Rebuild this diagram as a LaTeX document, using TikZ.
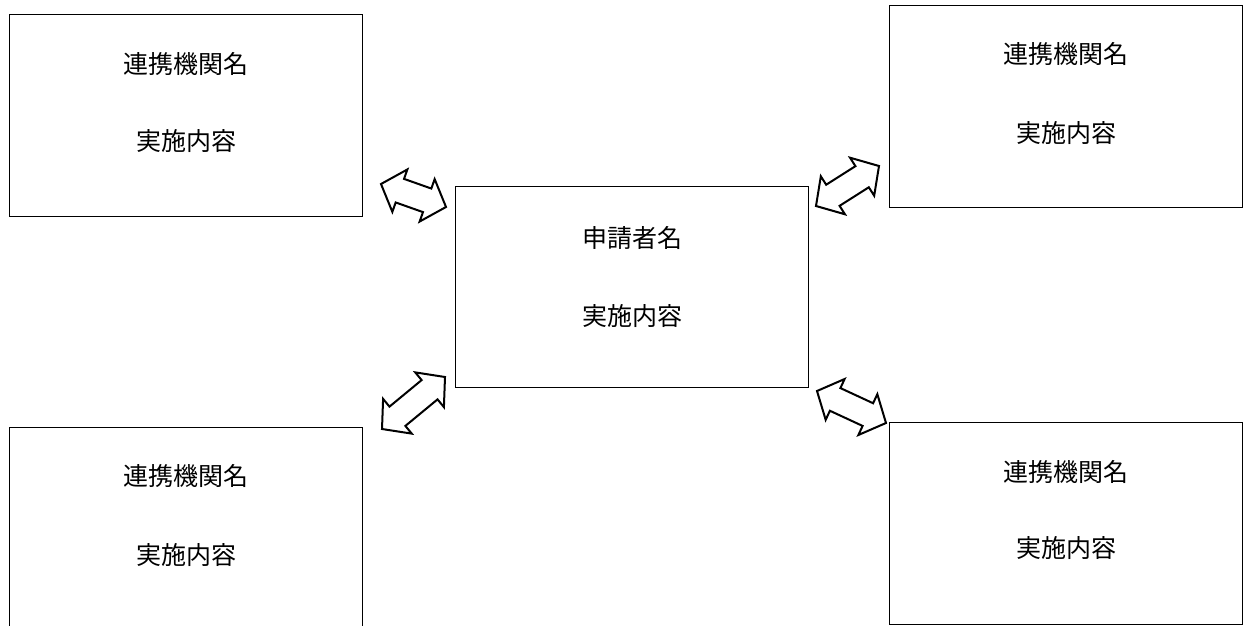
\documentclass[tikz,border=0pt]{standalone}
\usepackage{fontspec}
\newfontfamily\cjk{Noto Sans CJK JP}
\usetikzlibrary{calc}
\tikzset{
  boxnode/.style={draw=black, line width=1.1pt, minimum width=353pt, minimum height=202pt, anchor=north west, inner sep=0pt},
  lbl/.style={font=\cjk\fontsize{25}{30}\selectfont, inner sep=0pt, anchor=center},
  blockarrow/.style={draw=black, line width=2pt, fill=white, line join=miter},
}
\newcommand\ah{20pt}
\newcommand\aH{22.5pt}
\newcommand\as{12.5pt}
\newcommand\dblarrow[2]{%
  \draw[blockarrow] (#1)
    -- ($(#1)!\ah!(#2)!\aH!90:(#2)$)
    -- ($(#1)!\ah!(#2)!\as!90:(#2)$)
    -- ($(#2)!\ah!(#1)!\as!-90:(#1)$)
    -- ($(#2)!\ah!(#1)!\aH!-90:(#1)$)
    -- (#2)
    -- ($(#2)!\ah!(#1)!\aH!90:(#1)$)
    -- ($(#2)!\ah!(#1)!\as!90:(#1)$)
    -- ($(#1)!\ah!(#2)!\as!-90:(#2)$)
    -- ($(#1)!\ah!(#2)!\aH!-90:(#2)$)
    -- cycle;}
\begin{document}
\begin{tikzpicture}[x=1pt,y=-1pt]
\useasboundingbox (0,0) rectangle (1247,626);
\clip (0,0) rectangle (1247,626);
% boxes
\node[boxnode] (tl) at (9,14) {};
\node[boxnode] (tr) at (889,5) {};
\node[boxnode, minimum height=201pt] (c) at (455,186) {};
\node[boxnode, minimum height=220pt] (bl) at (9,427) {};
\node[boxnode] (br) at (889,422) {};
% texts
\node[lbl] (tl1) at ($(tl.north)+(0,50)$) {連携機関名};
\node[lbl] (tl2) at ($(tl.north)+(0,127)$) {実施内容};
\node[lbl] (tr1) at ($(tr.north)+(0,49)$) {連携機関名};
\node[lbl] (tr2) at ($(tr.north)+(0,128)$) {実施内容};
\node[lbl] (c1) at ($(c.north)+(0,52)$) {申請者名};
\node[lbl] (c2) at ($(c.north)+(0,130)$) {実施内容};
\node[lbl] (bl1) at ($(bl.north)+(0,49)$) {連携機関名};
\node[lbl] (bl2) at ($(bl.north)+(0,128)$) {実施内容};
\node[lbl] (br1) at ($(br.north)+(0,50)$) {連携機関名};
\node[lbl] (br2) at ($(br.north)+(0,126)$) {実施内容};
% arrows
\coordinate (a1s) at (381,184);
\coordinate (a1e) at (446,207);
\coordinate (a2s) at (816,206);
\coordinate (a2e) at (879,166);
\coordinate (a3s) at (382,429);
\coordinate (a3e) at (445,377);
\coordinate (a4s) at (817,391);
\coordinate (a4e) at (886,423);
\dblarrow{a1s}{a1e}
\dblarrow{a2s}{a2e}
\dblarrow{a3s}{a3e}
\dblarrow{a4s}{a4e}
\end{tikzpicture}
\end{document}
